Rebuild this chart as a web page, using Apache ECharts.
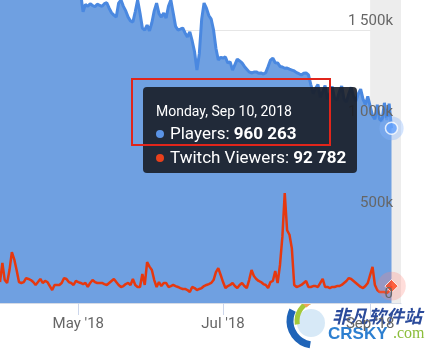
<!DOCTYPE html>
<html>
<head>
<meta charset="utf-8">
<script src="https://cdn.jsdelivr.net/npm/echarts@6/dist/echarts.min.js"></script>
<style>
  html, body { margin: 0; padding: 0; background: #fff; }
  #wrap { position: relative; width: 439px; height: 351px; overflow: hidden; }
  #chart { width: 439px; height: 351px; }
  #note { position: absolute; left: 131px; top: 78px; width: 196px; height: 64px;
          border: 2px solid #e1251b; pointer-events: none; z-index: 99999999; }
</style>
</head>
<body>
<div id="wrap"><div id="chart"></div><div id="note"></div></div>
<script>
// daily values, thousands, 2018-03-29 .. 2018-09-10
const players = [
  1830, 1790, 1850, 1880, 1840, 1800, 1760, 1820, 1860, 1790, 1740, 1780, 1810, 1770, 1730, 1760, 1800, 1750,
  1720, 1740, 1780, 1760, 1720, 1700, 1730, 1760, 1740, 1710, 1720, 1720, 1750, 1720, 1705, 1710, 1700,
  1600, 1640, 1630, 1645, 1635, 1628, 1642, 1636, 1630, 1645, 1650,
  1620, 1595, 1582, 1571, 1648, 1665, 1630, 1605, 1571, 1550,
  1544, 1600, 1665, 1593, 1511, 1500, 1527, 1495, 1540, 1605,
  1648, 1590, 1571, 1593, 1566, 1630, 1665, 1593, 1520, 1500,
  1505, 1511, 1484, 1462, 1490, 1440, 1380, 1280, 1370, 1560,
  1648, 1620, 1580, 1560, 1500, 1400, 1335, 1350, 1346, 1352,
  1319, 1325, 1280, 1310, 1340, 1330, 1319, 1300, 1285, 1270,
  1264, 1269, 1270, 1262, 1264, 1258, 1266, 1300, 1335, 1346,
  1320, 1319, 1300, 1297, 1290, 1291, 1285, 1280, 1275, 1266,
  1260, 1253, 1262, 1264, 1253, 1200, 1150, 1180, 1200, 1130,
  1160, 1195, 1120, 1150, 1190, 1125, 1115, 1160, 1192, 1120,
  1105, 1150, 1185, 1135, 1110, 1150, 1175, 1120, 1090, 1135,
  1080, 1030, 1010, 1090, 1010, 1000, 1100, 1005, 1095, 960.263
]
const twitch = [
  115, 220, 126, 110, 181, 280, 240, 181, 115, 110,
  115, 137, 132, 126, 115, 99, 115, 132, 110, 121,
  115, 93, 71, 99, 99, 99, 110, 137, 132, 115,
  110, 99, 121, 115, 110, 104, 110, 88, 110, 126,
  115, 110, 110, 110, 104, 99, 110, 121, 132, 115,
  99, 88, 93, 104, 110, 99, 132, 99, 88, 88,
  159, 99, 225, 200, 181, 126, 88, 115, 93, 110,
  110, 88, 93, 99, 93, 88, 82, 77, 77, 71,
  60, 88, 82, 71, 77, 82, 93, 99, 104, 110,
  126, 170, 192, 154, 115, 82, 93, 99, 110, 93,
  82, 99, 110, 93, 82, 126, 181, 148, 132, 121,
  115, 104, 99, 82, 115, 121, 176, 110, 209, 363,
  604, 400, 375, 300, 99, 88, 93, 99, 110, 121,
  88, 88, 93, 93, 88, 110, 132, 88, 88, 82,
  88, 88, 93, 93, 99, 110, 121, 137, 132, 121,
  110, 99, 88, 82, 93, 110, 154, 198, 99, 71,
  60, 60, 60, 55, 66, 92.782
]
const tickDays = ['2018-05-01', '2018-07-01', '2018-09-01']
const tickLabels = ["May '18", "Jul '18", "Sep '18"]
const bandDays = ['2018-09-01', '2018-09-14']
const yTop = 1665000 // value at the top edge of the visible plot

// category days, one per day
const startDay = Date.UTC(2018, 2, 29)
const days = []
for (let i = 0; i < 170; i++) {
  days.push(new Date(startDay + i * 86400000).toISOString().slice(0, 10))
}
const last = players.length - 1

const sep = n => String(Math.round(n)).replace(/\B(?=(\d{3})+(?!\d))/g, ' ')
const isTick = (idx, val) => tickDays.indexOf(val) >= 0
const font = 'Roboto'

const chart = echarts.init(document.getElementById('chart'))
chart.setOption({
  animation: false,
  grid: { left: 0, right: 38, top: 0, bottom: 48 },
  tooltip: {
    trigger: 'axis',
    axisPointer: { type: 'none' },
    alwaysShowContent: true,
    transitionDuration: 0,
    backgroundColor: 'rgba(24,29,39,0.9)',
    borderWidth: 0,
    padding: [14, 11, 4, 13],
    extraCssText: 'box-shadow:none;border-radius:4px;',
    position: [143, 87],
    formatter: function () {
      const d = new Date(days[last] + 'T00:00:00Z').toLocaleDateString('en-US', {
        weekday: 'long', month: 'short', day: 'numeric', year: 'numeric', timeZone: 'UTC'
      })
      const dot = c => '<span style="display:inline-block;width:8px;height:8px;border-radius:4px;background:' + c + ';margin:0 6px 2px 0;vertical-align:middle"></span>'
      return '<div style="font-family:Roboto;color:#fff">' +
        '<div style="font-size:14px;line-height:20px">' + d + '</div>' +
        '<div style="font-size:17px;line-height:24px">' + dot('#5a93e6') + 'Players: <b>' + sep(players[last] * 1000) + '</b></div>' +
        '<div style="font-size:17px;line-height:24px">' + dot('#e8401c') + 'Twitch Viewers: <b>' + sep(twitch[last] * 1000) + '</b></div>' +
        '</div>'
    }
  },
  xAxis: {
    type: 'category',
    data: days,
    boundaryGap: false,
    axisLine: { lineStyle: { color: '#d5dbe6' } },
    axisTick: { interval: isTick, length: 12, lineStyle: { color: '#ccd6eb' } },
    axisLabel: {
      interval: isTick,
      margin: 14,
      color: '#666',
      fontSize: 15,
      fontFamily: font,
      formatter: v => tickLabels[tickDays.indexOf(v)]
    }
  },
  yAxis: [{
    type: 'value',
    position: 'right',
    min: 0,
    max: yTop,
    interval: 500000,
    axisLine: { show: false },
    axisTick: { show: false },
    axisLabel: { show: false },
    splitLine: { showMaxLine: false, lineStyle: { color: '#e6e6e6' } }
  }, {
    type: 'value',
    position: 'right',
    min: 0,
    max: yTop,
    interval: 500000,
    z: 10,
    axisLine: { show: false },
    axisTick: { show: false },
    splitLine: { show: false },
    axisLabel: {
      inside: true,
      showMaxLabel: false,
      margin: 8,
      verticalAlign: 'bottom',
      lineHeight: 18,
      color: '#666',
      fontSize: 15,
      fontFamily: font,
      formatter: v => v === 0 ? '0' : (v % 500000 ? '' : sep(v / 1000) + 'k')
    }
  }],
  series: [{
    // plot band for the current month
    type: 'line',
    data: [],
    z: 1,
    markArea: {
      silent: true,
      itemStyle: { color: '#ededed' },
      data: [[{ xAxis: bandDays[0] }, { xAxis: bandDays[1] }]]
    }
  }, {
    name: 'Players',
    type: 'line',
    z: 2,
    data: players.map(v => v * 1000),
    symbol: 'none',
    lineStyle: { color: '#4a88e0', width: 3 },
    areaStyle: { color: '#6fa0e1', opacity: 1 },
    itemStyle: { color: '#4a88e0' },
    emphasis: { disabled: true }
  }, {
    name: 'Twitch Viewers',
    type: 'line',
    z: 3,
    data: twitch.map(v => v * 1000),
    symbol: 'none',
    lineStyle: { color: '#e6380f', width: 2.5 },
    itemStyle: { color: '#e6380f' },
    emphasis: { disabled: true }
  }, {
    // hover halos
    type: 'scatter',
    z: 5,
    silent: true,
    data: [
      { value: [days[last], players[last] * 1000], symbolSize: 22, itemStyle: { color: 'rgba(120,165,230,0.45)' } },
      { value: [days[last], twitch[last] * 1000], symbolSize: 26, itemStyle: { color: 'rgba(235,120,110,0.35)' } }
    ]
  }, {
    type: 'scatter',
    z: 6,
    silent: true,
    data: [
      { value: [days[last], players[last] * 1000], symbol: 'circle', symbolSize: 11,
        itemStyle: { color: '#5a93e6', borderColor: '#fff', borderWidth: 1.5 } },
      { value: [days[last], twitch[last] * 1000], symbol: 'diamond', symbolSize: 12,
        itemStyle: { color: '#e8401c', borderColor: '#fff', borderWidth: 1 } }
    ]
  }],
  graphic: [{
    type: 'group',
    z: 100,
    silent: true,
    children: [
      { type: 'circle', shape: { cx: 311, cy: 323, r: 14 }, style: { fill: 'rgba(205,227,245,0.8)' } },
      { type: 'arc', shape: { cx: 314, cy: 321, r: 24, startAngle: Math.PI * 0.55, endAngle: Math.PI * 1.15 },
        style: { stroke: '#1f64b8', lineWidth: 7, fill: 'none' } },
      { type: 'arc', shape: { cx: 318, cy: 321, r: 21, startAngle: Math.PI * 0.95, endAngle: Math.PI * 1.4 },
        style: { stroke: '#a3c93a', lineWidth: 5, fill: 'none' } },
      { type: 'arc', shape: { cx: 322, cy: 323, r: 25, startAngle: Math.PI * 1.25, endAngle: Math.PI * 1.65 },
        style: { stroke: '#f2a35a', lineWidth: 6, fill: 'none' } },
      { type: 'text', x: 332, y: 316,
        style: { text: '非凡软件站', font: 'italic bold 18px "Noto Sans CJK SC"', fill: '#2b4b9b', verticalAlign: 'middle' } },
      { type: 'text', x: 328, y: 334,
        style: { text: 'CRSKY', font: 'bold 17px "Liberation Sans"', fill: '#2d7fd0', verticalAlign: 'middle' } },
      { type: 'text', x: 393, y: 334,
        style: { text: '.com', font: '16px "Liberation Serif"', fill: '#8bbd3a', verticalAlign: 'middle' } }
    ]
  }]
})
chart.dispatchAction({ type: 'showTip', seriesIndex: 1, dataIndex: last })
</script>
</body>
</html>
